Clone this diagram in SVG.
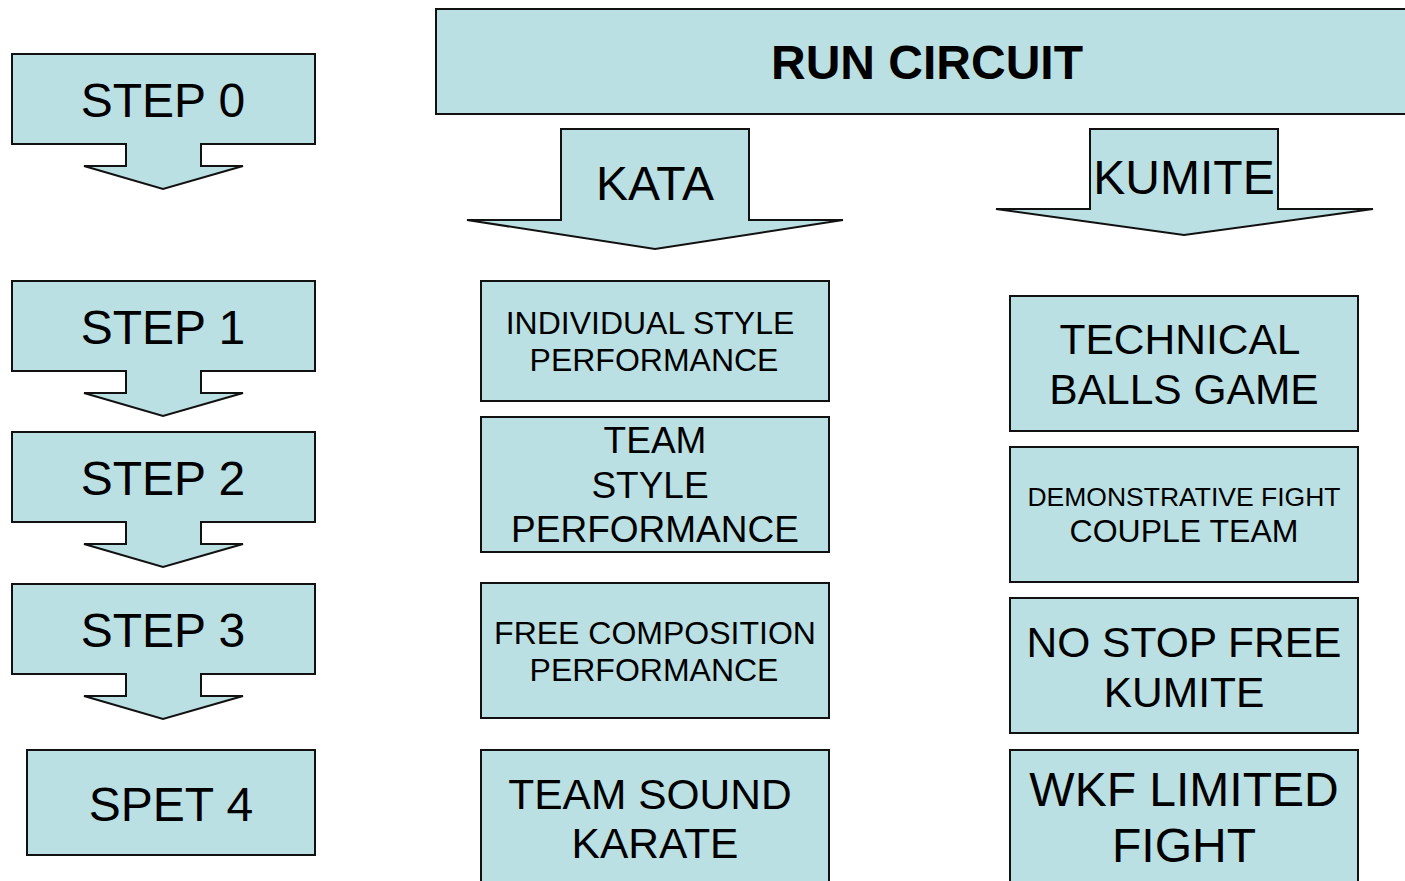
<svg xmlns="http://www.w3.org/2000/svg" width="1405" height="881" viewBox="0 0 1405 881">
<style>
.s{fill:#BBE0E3;stroke:#111;stroke-width:2}
text{font-family:"Liberation Sans",Arial,sans-serif;fill:#000;text-anchor:middle}
</style>
<rect width="1405" height="881" fill="#fff"/>
<defs>
<path id="callout" d="M12,54 H315 V144 H201 V166 H243 L163,189 L84,166 H126 V144 H12 Z"/>
</defs>
<g id="step0"><use href="#callout" class="s"/><text x="163" y="117" font-size="48">STEP 0</text></g>
<g id="step1"><use href="#callout" class="s" y="227"/><text x="163" y="344" font-size="48">STEP 1</text></g>
<g id="step2"><use href="#callout" class="s" y="378"/><text x="163" y="495" font-size="48">STEP 2</text></g>
<g id="step3"><use href="#callout" class="s" y="530"/><text x="163" y="647" font-size="48">STEP 3</text></g>
<g id="step4"><rect class="s" x="27" y="750" width="288" height="105"/><text x="171" y="821" font-size="48">SPET 4</text></g>
<g id="run"><rect class="s" x="436" y="9" width="980" height="105"/><text x="927" y="79" font-size="48" font-weight="bold">RUN CIRCUIT</text></g>
<g id="kata"><path class="s" d="M561,129 H749 V220 H843 L655,249 L467,220 H561 Z"/><text x="655" y="200" font-size="48">KATA</text></g>
<g id="kumite"><path class="s" d="M1090,129 H1278 V209 H1373 L1184,235 L996,209 H1090 Z"/><text x="1184" y="194" font-size="48">KUMITE</text></g>
<g id="kata1"><rect class="s" x="481" y="281" width="348" height="120"/><text x="650" y="334" font-size="32">INDIVIDUAL STYLE</text><text x="654" y="371" font-size="32">PERFORMANCE</text></g>
<g id="kata2"><rect class="s" x="481" y="417" width="348" height="135"/><text x="655" y="453" font-size="37">TEAM</text><text x="650" y="498" font-size="37">STYLE</text><text x="655" y="542" font-size="37">PERFORMANCE</text></g>
<g id="kata3"><rect class="s" x="481" y="583" width="348" height="135"/><text x="655" y="644" font-size="32">FREE COMPOSITION</text><text x="654" y="681" font-size="32">PERFORMANCE</text></g>
<g id="kata4"><rect class="s" x="481" y="750" width="348" height="145"/><text x="650" y="809" font-size="42.5">TEAM SOUND</text><text x="655" y="858" font-size="42.5">KARATE</text></g>
<g id="kum1"><rect class="s" x="1010" y="296" width="348" height="135"/><text x="1180" y="354" font-size="42.5">TECHNICAL</text><text x="1184" y="404" font-size="42.5">BALLS GAME</text></g>
<g id="kum2"><rect class="s" x="1010" y="447" width="348" height="135"/><text x="1184" y="506" font-size="26.5">DEMONSTRATIVE FIGHT</text><text x="1184" y="542" font-size="32">COUPLE TEAM</text></g>
<g id="kum3"><rect class="s" x="1010" y="598" width="348" height="135"/><text x="1184" y="657" font-size="42.5">NO STOP FREE</text><text x="1184" y="707" font-size="42.5">KUMITE</text></g>
<g id="kum4"><rect class="s" x="1010" y="750" width="348" height="145"/><text x="1184" y="806" font-size="48">WKF LIMITED</text><text x="1184" y="862" font-size="48">FIGHT</text></g>
<g id="connectors"></g>
</svg>
